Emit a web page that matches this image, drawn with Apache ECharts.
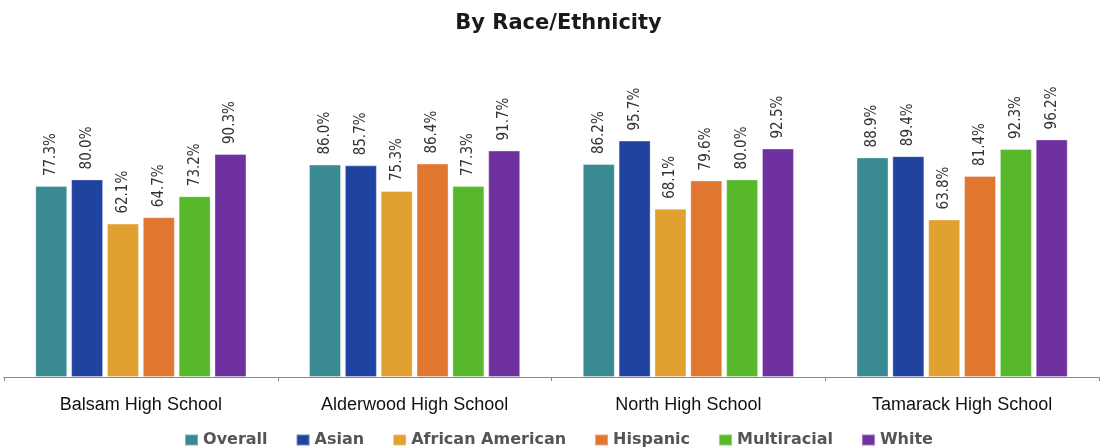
<!DOCTYPE html>
<html>
<head>
<meta charset="utf-8">
<script src="https://cdn.jsdelivr.net/npm/echarts@6/dist/echarts.min.js"></script>
<style>
    html, body { margin: 0; padding: 0; background: #fff; }
    #chart { width: 1117px; height: 448px; }
</style>
</head>
<body>
<div id="chart"></div>
<script>
var schools = ['Balsam High School', 'Alderwood High School', 'North High School', 'Tamarack High School'];
var groups = ['Overall', 'Asian', 'African American', 'Hispanic', 'Multiracial', 'White'];
var colors = ['#3a8a92', '#2143a0', '#e0a130', '#e07630', '#58b82c', '#7031a0'];

var overall = [77.3, 86.0, 86.2, 88.9];
var asian = [80.0, 85.7, 95.7, 89.4];
var africanAmerican = [62.1, 75.3, 68.1, 63.8];
var hispanic = [64.7, 86.4, 79.6, 81.4];
var multiracial = [73.2, 77.3, 80.0, 92.3];
var white = [90.3, 91.7, 92.5, 96.2];

var seriesData = [overall, asian, africanAmerican, hispanic, multiracial, white];

var chart = echarts.init(document.getElementById('chart'));
chart.setOption({
    animation: false,
    color: colors,
    title: {
        text: 'By Race/Ethnicity',
        left: 'center',
        top: 8,
        textStyle: {
            fontFamily: 'DejaVu Sans',
            fontWeight: 'bold',
            fontSize: 21,
            color: '#1a1a1a'
        }
    },
    legend: {
        top: 427,
        left: 'center',
        itemWidth: 13,
        itemHeight: 11,
        itemGap: 28,
        icon: 'rect',
        textStyle: {
            fontFamily: 'DejaVu Sans',
            fontWeight: 'bold',
            fontSize: 16,
            color: '#555'
        },
        data: groups
    },
    grid: {
        left: 4,
        right: 18,
        top: 130,
        bottom: 71
    },
    xAxis: {
        type: 'category',
        data: schools,
        axisLine: { lineStyle: { color: '#888', width: 1 } },
        axisTick: { show: true, length: 4, lineStyle: { color: '#888' } },
        axisLabel: {
            margin: 19,
            fontFamily: 'Liberation Sans',
            fontSize: 18,
            color: '#111'
        }
    },
    yAxis: {
        type: 'value',
        min: 0,
        max: 100,
        show: false,
        splitLine: { show: false }
    },
    series: groups.map(function(name, i) {
        return {
            name: name,
            type: 'bar',
            barWidth: 32,
            barGap: '12%',
            data: seriesData[i],
            itemStyle: {
                borderColor: 'rgba(255,255,255,0.35)',
                borderWidth: 1
            },
            label: {
                show: true,
                position: 'top',
                rotate: 90,
                align: 'left',
                verticalAlign: 'middle',
                distance: 10,
                fontFamily: 'DejaVu Sans Condensed',
                fontSize: 15,
                color: '#333',
                formatter: function(p) {
                    return p.value.toFixed(1) + '%';
                }
            }
        };
    })
});
</script>
</body>
</html>
